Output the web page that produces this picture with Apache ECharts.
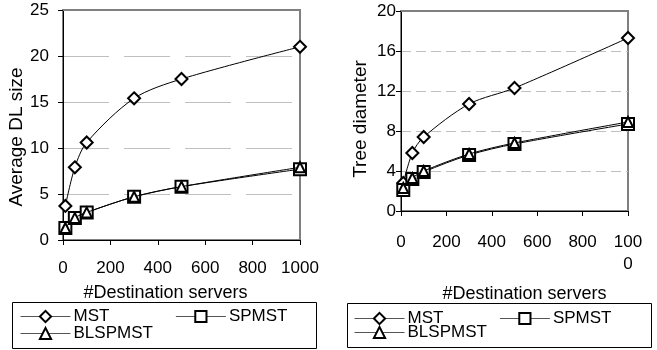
<!DOCTYPE html>
<html>
<head>
<meta charset="utf-8">
<script src="https://cdn.jsdelivr.net/npm/echarts@6/dist/echarts.min.js"></script>
<style>html,body{margin:0;padding:0;background:#fff;}#c{width:657px;height:350px;}</style>
</head>
<body>
<div id="c"></div>
<script>
// Data
var servers = [10, 50, 100, 300, 500, 1000];
var seriesNames = ['MST', 'SPMST', 'BLSPMST'];
// Left chart: Average DL size
var dlMST = [3.7, 7.9, 10.6, 15.4, 17.5, 21.0];
var dlSPMST = [1.3, 2.4, 3.0, 4.7, 5.8, 7.7];
var dlBLSPMST = [1.3, 2.4, 3.0, 4.7, 5.8, 7.9];
// Right chart: Tree diameter
var tdMST = [2.8, 5.8, 7.4, 10.7, 12.3, 17.3];
var tdSPMST = [2.1, 3.2, 3.9, 5.6, 6.7, 8.7];
var tdBLSPMST = [2.3, 3.3, 4.0, 5.7, 6.8, 8.9];
// Tick labels
var xTicksLeft = ['0', '200', '400', '600', '800', '1000'];
var xTicksRight = ['0', '200', '400', '600', '800', '100\n0'];
var xTickValues = [0, 200, 400, 600, 800, 1000];

var FONT = 'Liberation Sans, Arial, sans-serif';
var FS = 17;

function pairs(xs, ys) { return xs.map(function (x, i) { return [x, ys[i]]; }); }

var symbols = { MST: 'emptyDiamond', SPMST: 'emptyRect', BLSPMST: 'emptyTriangle' };
var sizes = { MST: 12, SPMST: 12, BLSPMST: 10 };

function mkSeries(name, xs, ys, idx) {
  return {
    name: name, type: 'line', xAxisIndex: idx, yAxisIndex: idx,
    data: pairs(xs, ys), smooth: 0.3,
    symbol: symbols[name], symbolSize: sizes[name],
    lineStyle: { color: '#000', width: 1 },
    itemStyle: { color: '#000', borderColor: '#000', borderWidth: 2 },
    z: name === 'MST' ? 3 : (name === 'SPMST' ? 4 : 5),
    animation: false
  };
}

function xAxis(idx, labels, margin, namePad, nameGap) {
  return {
    type: 'value', gridIndex: idx, min: 0, max: 1000, interval: 200,
    name: '#Destination servers', nameLocation: 'middle', nameGap: nameGap,
    nameTextStyle: { fontFamily: FONT, fontSize: 18, color: '#000', padding: namePad },
    axisLine: { show: true, lineStyle: { color: '#000', width: 1 } },
    axisTick: { show: true, inside: false, length: 5, lineStyle: { color: '#000' } },
    axisLabel: {
      fontFamily: FONT, fontSize: FS, color: '#000', margin: margin, lineHeight: 22,
      formatter: function (v) { var i = xTickValues.indexOf(v); return i >= 0 ? labels[i] : ''; }
    },
    splitLine: { show: false }
  };
}

function topAxis(idx) {
  return {
    type: 'value', gridIndex: idx, position: 'top', min: 0, max: 1000,
    axisLine: { show: true, onZero: false, lineStyle: { color: '#808080', width: 2 } },
    axisTick: { show: false }, axisLabel: { show: false }, splitLine: { show: false }
  };
}

function yAxis(idx, max, interval, name, nameGap, namePad, margin, dash) {
  return {
    type: 'value', gridIndex: idx, min: 0, max: max, interval: interval,
    name: name, nameLocation: 'middle', nameGap: nameGap,
    nameTextStyle: { fontFamily: FONT, fontSize: 19, color: '#000', padding: namePad },
    axisLine: { show: true, lineStyle: { color: '#000', width: 1 } },
    axisTick: { show: true, inside: false, length: 5, lineStyle: { color: '#000' } },
    axisLabel: { fontFamily: FONT, fontSize: FS, color: '#000', margin: margin },
    splitLine: { show: true, showMinLine: false, showMaxLine: false, lineStyle: { color: '#c0c0c0', width: 1, type: dash } }
  };
}

function legend(data, left, top, gap) {
  return {
    data: data, left: left, top: top, orient: 'horizontal', padding: 0,
    itemWidth: 50, itemHeight: 14, itemGap: gap, selectedMode: false,
    textStyle: { fontFamily: FONT, fontSize: FS, color: '#000', padding: [0, 0, 0, -2] },
    lineStyle: { color: '#555', width: 1 }
  };
}

var chart = echarts.init(document.getElementById('c'), null, { renderer: 'canvas' });
chart.setOption({
  animation: false,
  backgroundColor: '#fff',
  grid: [
    { left: 63, top: 10, width: 237, height: 230, show: true, borderColor: '#808080', borderWidth: 2, backgroundColor: 'transparent' },
    { left: 401, top: 11, width: 227, height: 200, show: true, borderColor: '#808080', borderWidth: 2, backgroundColor: 'transparent' }
  ],
  xAxis: [
    xAxis(0, xTicksLeft, 17, [0, 32, 0, 0], 38),
    xAxis(1, xTicksRight, 20, [0, 0, 0, 20], 74),
    topAxis(0),
    topAxis(1)
  ],
  yAxis: [
    yAxis(0, 25, 5, 'Average DL size', 33, [0, 24, 0, 0], 14, [46, 15]),
    yAxis(1, 20, 4, 'Tree diameter', 31, [0, 16, 0, 0], 5, [10, 5])
  ],
  legend: [
    legend(['MST', 'SPMST'], 20, 308, 66),
    legend(['BLSPMST'], 20, 325, 66),
    legend(['MST', 'SPMST'], 354, 310, 56),
    legend(['BLSPMST'], 354, 324, 56)
  ],
  graphic: [
    { type: 'rect', shape: { x: 12.5, y: 302.5, width: 304, height: 46 }, style: { fill: 'none', stroke: '#000', lineWidth: 1 }, silent: true },
    { type: 'rect', shape: { x: 347.5, y: 303.5, width: 304, height: 44 }, style: { fill: 'none', stroke: '#000', lineWidth: 1 }, silent: true }
  ],
  series: [
    mkSeries('MST', servers, dlMST, 0),
    mkSeries('SPMST', servers, dlSPMST, 0),
    mkSeries('BLSPMST', servers, dlBLSPMST, 0),
    mkSeries('MST', servers, tdMST, 1),
    mkSeries('SPMST', servers, tdSPMST, 1),
    mkSeries('BLSPMST', servers, tdBLSPMST, 1)
  ]
});
</script>
</body>
</html>
